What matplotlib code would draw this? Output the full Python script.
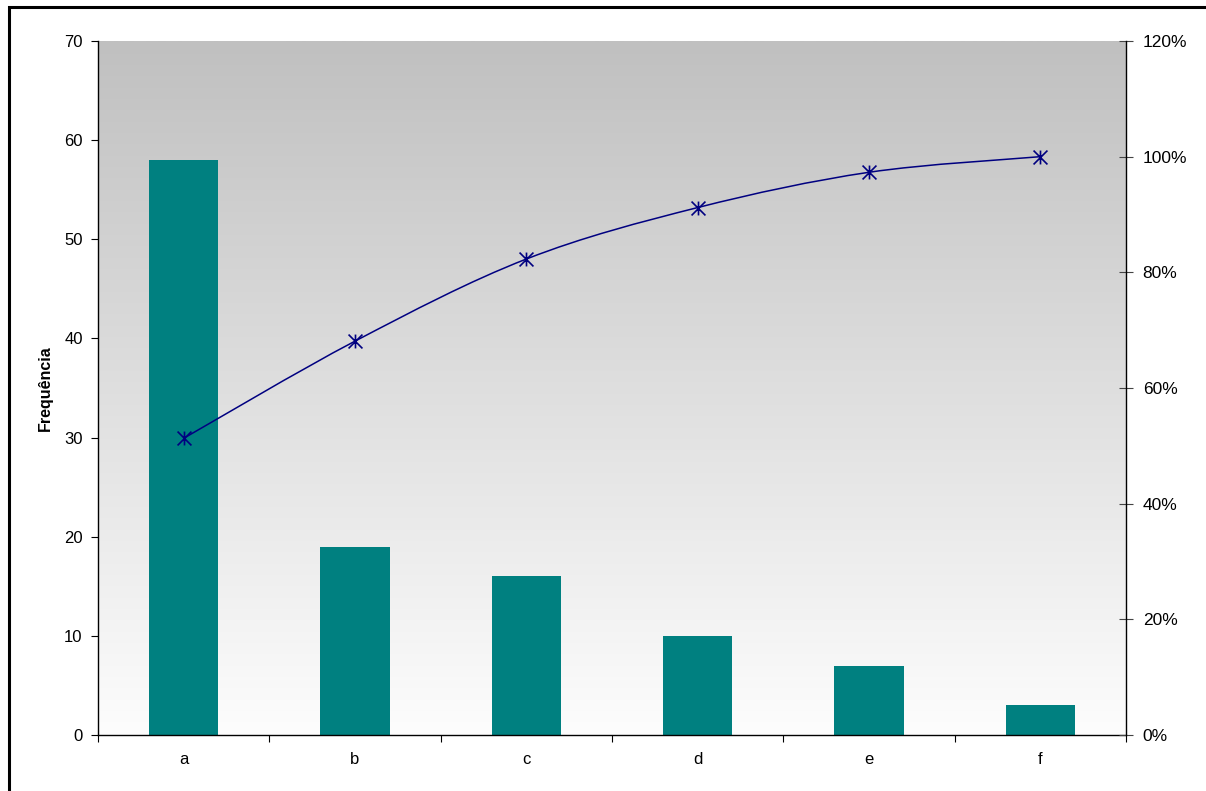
import numpy as np
import matplotlib
matplotlib.use("Agg")
import matplotlib.pyplot as plt
from matplotlib.path import Path
from matplotlib.patches import PathPatch, Rectangle
from matplotlib.ticker import FuncFormatter, FixedLocator
from matplotlib.colors import LinearSegmentedColormap

categories = ["a", "b", "c", "d", "e", "f"]
frequencies = [58, 19, 16, 10, 7, 3]
cumulative_pct = [0.513, 0.681, 0.823, 0.912, 0.973, 1.0]
left_ticks = [0, 10, 20, 30, 40, 50, 60, 70]
right_ticks = [0, 0.2, 0.4, 0.6, 0.8, 1.0, 1.2]
ylabel = "Frequência"

plt.rcParams['font.family'] = ['Liberation Sans', 'DejaVu Sans']

W, H = 1206, 791
fig = plt.figure(figsize=(W / 100, H / 100), dpi=100)
fig.patch.set_facecolor("white")

L, R, T, B = 98, 1126, 41, 735
ax = fig.add_axes([L / W, 1 - B / H, (R - L) / W, (B - T) / H])
ax.patch.set_visible(False)

# gradient background
grad = np.linspace(0, 1, 256).reshape(-1, 1)
cmap = LinearSegmentedColormap.from_list("g", ["#fdfdfd", "#c0c0c0"])
ax.imshow(grad, extent=[0, 1, 0, 1], transform=ax.transAxes, cmap=cmap,
          aspect="auto", origin="lower", zorder=0, interpolation="bilinear")

x = np.arange(len(categories))
ax.bar(x, frequencies, width=0.405, color="#008080", zorder=2)
ax.set_xlim(-0.5, len(categories) - 0.5)
ax.set_ylim(left_ticks[0], left_ticks[-1])
ax.set_yticks(left_ticks)
ax.set_xticks(x)
ax.set_xticklabels(categories)
ax.xaxis.set_minor_locator(FixedLocator(np.arange(-0.5, len(categories), 1.0)))
ax.tick_params(axis="x", which="major", length=0, pad=12, labelsize=12)
ax.tick_params(axis="x", which="minor", length=5, width=0.8, direction="out")
ax.tick_params(axis="y", length=5, width=0.8, direction="out", pad=6, labelsize=12)
ax.set_ylabel(ylabel, fontsize=11.5, fontweight="bold", labelpad=8)
for s in ["top", "right"]:
    ax.spines[s].set_visible(False)
for s in ["left", "bottom"]:
    ax.spines[s].set_linewidth(1.0)
    ax.spines[s].set_color("black")

ax2 = ax.twinx()
ax2.set_ylim(right_ticks[0], right_ticks[-1])
ax2.set_yticks(right_ticks)
ax2.yaxis.set_major_formatter(FuncFormatter(lambda v, p: f"{v*100:.0f}%"))
ax2.tick_params(axis="y", length=10, width=0.8, direction="inout", pad=7,
                labelsize=12.5, color="#444444")
for s in ["top", "left", "bottom"]:
    ax2.spines[s].set_visible(False)
ax2.spines["right"].set_linewidth(1.0)

# smoothed line (Catmull-Rom as Bezier segments)
px = list(x.astype(float))
py = list(cumulative_pct)
n = len(px)
verts = [(px[0], py[0])]
codes = [Path.MOVETO]
for i in range(n - 1):
    p0 = (px[i - 1], py[i - 1]) if i > 0 else (px[i], py[i])
    p1 = (px[i], py[i])
    p2 = (px[i + 1], py[i + 1])
    p3 = (px[i + 2], py[i + 2]) if i + 2 < n else p2
    c1 = (p1[0] + (p2[0] - p0[0]) / 6, p1[1] + (p2[1] - p0[1]) / 6)
    c2 = (p2[0] - (p3[0] - p1[0]) / 6, p2[1] - (p3[1] - p1[1]) / 6)
    verts += [c1, c2, p2]
    codes += [Path.CURVE4] * 3
ax2.add_patch(PathPatch(Path(verts, codes), facecolor="none", edgecolor="#000080",
                        lw=1.1, zorder=3))

star = Path([(-1, -1), (1, 1), (-1, 1), (1, -1), (0, -1), (0, 1)],
            [Path.MOVETO, Path.LINETO, Path.MOVETO, Path.LINETO, Path.MOVETO, Path.LINETO])
ax2.plot(x, cumulative_pct, linestyle="none", marker=star, markersize=10,
         markeredgecolor="#000080", markerfacecolor="none", markeredgewidth=1.2, zorder=4)

# figure border (partially cropped)
fig.patches.append(Rectangle((8.5 / W, -0.1), 1.2, (1 - 6.5 / H) + 0.1,
                             transform=fig.transFigure, fill=False,
                             edgecolor="black", linewidth=2.2, zorder=10))

fig.savefig("out.png", dpi=100)
